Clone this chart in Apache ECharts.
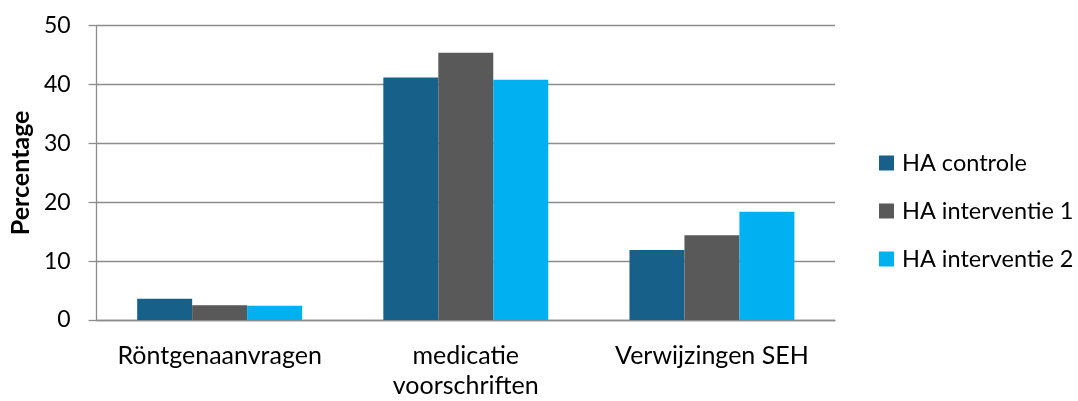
<!DOCTYPE html>
<html>
<head>
<meta charset="utf-8">
<script src="https://cdn.jsdelivr.net/npm/echarts@6/dist/echarts.min.js"></script>
<style>
html,body{margin:0;padding:0;background:#fff;overflow:hidden;}
#c{width:1078px;height:401px;}
</style>
</head>
<body>
<div id="c"></div>
<script>
const categories = ['Röntgenaanvragen', 'medicatie\nvoorschriften', 'Verwijzingen SEH'];
const seriesNames = ['HA controle', 'HA interventie 1', 'HA interventie 2'];
const haControle = [3.6, 41.2, 11.9];
const haInterventie1 = [2.5, 45.4, 14.4];
const haInterventie2 = [2.4, 40.8, 18.4];
const yTicks = { min: 0, max: 50, interval: 10 };

const FONT = 'Lato, "Liberation Sans", sans-serif';
const colors = ['#17608A', '#595959', '#00B0F0'];
const data = [haControle, haInterventie1, haInterventie2];

const chart = echarts.init(document.getElementById('c'), null, { renderer: 'canvas' });
chart.setOption({
  animation: false,
  backgroundColor: '#fff',
  textStyle: { fontFamily: FONT },
  grid: { left: 95, width: 740, top: 25.7, height: 299.6, containLabel: false },
  legend: {
    orient: 'vertical',
    left: 874,
    top: 145,
    itemWidth: 15,
    itemHeight: 15,
    itemGap: 22,
    icon: 'rect',
    textStyle: { fontFamily: FONT, fontSize: 23.5, color: '#000', lineHeight: 26, padding: [0, 0, 0, 3] },
    data: seriesNames
  },
  xAxis: {
    type: 'category',
    data: categories,
    axisLine: { show: true, lineStyle: { color: '#8c8c8c', width: 1.3 } },
    axisTick: { show: false },
    axisLabel: { fontFamily: FONT, fontSize: 25, color: '#000', margin: 21, lineHeight: 30, interval: 0 }
  },
  yAxis: {
    type: 'value',
    min: yTicks.min,
    max: yTicks.max,
    interval: yTicks.interval,
    name: 'Percentage',
    nameLocation: 'middle',
    nameRotate: 90,
    nameGap: 60,
    nameTextStyle: { fontFamily: FONT, fontSize: 25, fontWeight: 'bold', color: '#000' },
    axisLine: { show: true, lineStyle: { color: '#8c8c8c', width: 1.3 } },
    axisTick: { show: true, length: 8, lineStyle: { color: '#8c8c8c', width: 1.3 } },
    axisLabel: { fontFamily: FONT, fontSize: 23, color: '#000', margin: 26 },
    splitLine: { show: true, lineStyle: { color: '#8c8c8c', width: 1.3 } }
  },
  series: seriesNames.map((n, i) => ({
    name: n,
    type: 'bar',
    data: data[i],
    barGap: '0%',
    barCategoryGap: '33%',
    itemStyle: { color: colors[i] }
  }))
});
</script>
</body>
</html>
